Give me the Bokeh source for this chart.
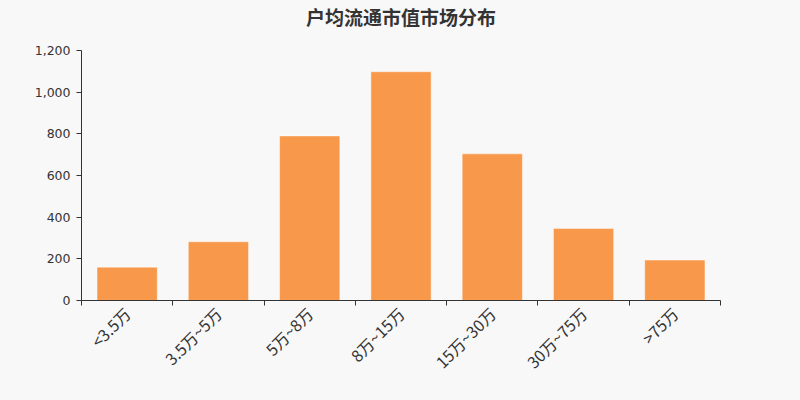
from bokeh.plotting import figure
from bokeh.models import Range1d, FixedTicker, NumeralTickFormatter, Title
from bokeh.embed import file_html
from bokeh.resources import INLINE
import math

title = "户均流通市值市场分布"
categories = ["<3.5万", "3.5万~5万", "5万~8万", "8万~15万", "15万~30万", "30万~75万", ">75万"]
values = [160, 282, 790, 1098, 704, 346, 194]
y_ticks = [0, 200, 400, 600, 800, 1000, 1200]

BG = "#f8f8f8"
BAR = "#f7984a"
AXIS = "#333333"

n = len(categories)
xs = [i + 0.5 for i in range(n)]

p = figure(width=784, height=384, output_backend="svg", toolbar_location=None,
           x_range=Range1d(0, n), y_range=Range1d(0, y_ticks[-1]),
           background_fill_color=BG, border_fill_color=BG,
           min_border_left=81, min_border_right=64, min_border_top=50, min_border_bottom=81)
p.outline_line_color = None
p.xgrid.visible = False
p.ygrid.visible = False

# spacer between frame and title (added first: nearest the frame)
p.add_layout(Title(text=" ", text_font_size="17px", standoff=0, text_color=BG), "above")
p.add_layout(Title(text=title, align="center", text_font="Noto Sans CJK SC",
                   text_font_size="19px", text_font_style="bold", text_color="#333333",
                   standoff=0), "above")

p.vbar(x=xs, top=values, width=0.66, bottom=0, fill_color=BAR,
       line_color="#ffffff", line_alpha=0.45, line_width=1)

xa = p.xaxis[0]
xa.ticker = FixedTicker(ticks=xs, minor_ticks=list(range(n + 1)))
xa.major_label_overrides = {x: c for x, c in zip(xs, categories)}
xa.major_label_orientation = math.pi / 4
xa.major_tick_out = 0
xa.major_tick_in = 0
xa.minor_tick_out = 5
xa.minor_tick_in = 0
xa.minor_tick_line_color = AXIS
xa.axis_line_color = AXIS
xa.major_label_text_font = "Noto Sans CJK SC"
xa.major_label_text_font_size = "16px"
xa.major_label_text_color = "#333333"
xa.major_label_standoff = 5

ya = p.yaxis[0]
ya.ticker = FixedTicker(ticks=y_ticks)
ya.formatter = NumeralTickFormatter(format="0,0")
ya.major_tick_out = 5
ya.major_tick_in = 0
ya.minor_tick_line_color = None
ya.axis_line_color = AXIS
ya.major_tick_line_color = AXIS
ya.major_label_text_font = "DejaVu Sans"
ya.major_label_text_font_size = "12.5px"
ya.major_label_text_color = "#333333"
ya.major_label_standoff = 6

html = file_html(p, INLINE)
html = html.replace("<head>", "<head><style>body{background:%s;}</style>" % BG, 1)
open("out.html", "w").write(html)
